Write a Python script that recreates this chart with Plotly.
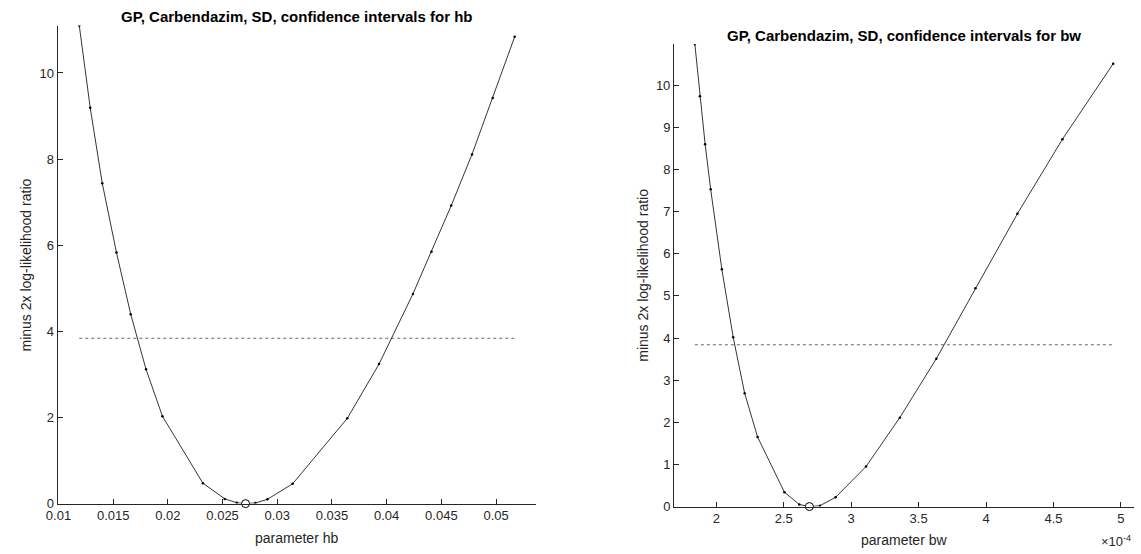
import plotly.graph_objects as go

# Profile likelihood for hb
hb_x = [0.0119, 0.0129, 0.0140, 0.0153, 0.0166, 0.0180, 0.0195, 0.0232, 0.0252, 0.0263,
        0.0271, 0.0280, 0.0291, 0.0314, 0.0364, 0.0393, 0.0424, 0.0441, 0.0459, 0.0478,
        0.0497, 0.0517]
hb_y = [11.10, 9.19, 7.44, 5.83, 4.40, 3.12, 2.03, 0.475, 0.11, 0.02,
        0.0, 0.015, 0.10, 0.46, 1.98, 3.24, 4.87, 5.85, 6.92, 8.11,
        9.42, 10.84]
hb_best = 0.0271

# Profile likelihood for bw
bw_x = [1.841e-4, 1.878e-4, 1.917e-4, 1.958e-4, 2.041e-4, 2.125e-4, 2.210e-4, 2.306e-4,
        2.505e-4, 2.615e-4, 2.690e-4, 2.768e-4, 2.884e-4, 3.110e-4, 3.360e-4, 3.631e-4,
        3.921e-4, 4.232e-4, 4.566e-4, 4.942e-4]
bw_y = [10.97, 9.74, 8.60, 7.53, 5.63, 4.02, 2.69, 1.65,
        0.34, 0.05, 0.0, 0.02, 0.22, 0.95, 2.11, 3.51,
        5.18, 6.95, 8.72, 10.51]
bw_best = 2.690e-4

# chi-square(1) 95% cut-off
chi2_crit = 3.84

hb_ticks = [0.01, 0.015, 0.02, 0.025, 0.03, 0.035, 0.04, 0.045, 0.05]
hb_ticktext = ["0.01", "0.015", "0.02", "0.025", "0.03", "0.035", "0.04", "0.045", "0.05"]
bw_ticks = [2e-4, 2.5e-4, 3e-4, 3.5e-4, 4e-4, 4.5e-4, 5e-4]
bw_ticktext = ["2", "2.5", "3", "3.5", "4", "4.5", "5"]

W, H = 1141, 554
FONT = "Liberation Sans, Arial, sans-serif"
AX = "#262626"
LINE = "#000000"

fig = go.Figure()


def add_panel(xs, ys, best, xa, ya):
    fig.add_trace(go.Scatter(
        x=[min(xs), max(xs)], y=[chi2_crit, chi2_crit], mode="lines",
        line=dict(color="#666666", width=1, dash="dot"),
        xaxis=xa, yaxis=ya, showlegend=False, hoverinfo="skip"))
    fig.add_trace(go.Scatter(
        x=xs, y=ys, mode="lines+markers",
        line=dict(color=LINE, width=0.8),
        marker=dict(color=LINE, size=2.5),
        xaxis=xa, yaxis=ya, showlegend=False))
    fig.add_trace(go.Scatter(
        x=[best], y=[0], mode="markers",
        marker=dict(color="white", size=8, line=dict(color=LINE, width=1)),
        xaxis=xa, yaxis=ya, showlegend=False, cliponaxis=False))


add_panel(hb_x, hb_y, hb_best, "x", "y")
add_panel(bw_x, bw_y, bw_best, "x2", "y2")


def pad(vals):
    lo, hi = min(vals), max(vals)
    d = (hi - lo) * 0.05
    return [lo - d, hi + d]


axis_common = dict(
    showgrid=False, zeroline=False, showline=True, linecolor=AX, linewidth=1,
    ticks="inside", ticklen=5, tickcolor=AX, tickwidth=1,
    tickfont=dict(family=FONT, size=13, color=AX), mirror=False,
)

l_x0, l_x1, l_top, l_bot = 46, 530, 26, 511
r_x0, r_x1, r_top, r_bot = 669, 1134, 45, 514

fig.update_layout(
    width=W, height=H,
    margin=dict(l=0, r=0, t=0, b=0),
    paper_bgcolor="white", plot_bgcolor="white",
    font=dict(family=FONT, color=AX),
    xaxis=dict(domain=[l_x0 / W, l_x1 / W], range=pad(hb_x), tickvals=hb_ticks,
               ticktext=hb_ticktext, anchor="y", **axis_common),
    yaxis=dict(domain=[1 - l_bot / H, 1 - l_top / H], range=[0, max(hb_y)],
               tickvals=[0, 2, 4, 6, 8, 10], anchor="x", **axis_common),
    xaxis2=dict(domain=[r_x0 / W, r_x1 / W], range=pad(bw_x), tickvals=bw_ticks,
                ticktext=bw_ticktext, anchor="y2", **axis_common),
    yaxis2=dict(domain=[1 - r_bot / H, 1 - r_top / H], range=[0, max(bw_y)],
                tickvals=list(range(0, 11)), anchor="x2", **axis_common),
)


def px_text(text, x, y, size=14, bold=False, angle=0, xanchor="center"):
    fig.add_annotation(
        text=f"<b>{text}</b>" if bold else text,
        x=x / W, y=1 - y / H, xref="paper", yref="paper",
        xanchor=xanchor, yanchor="middle", showarrow=False, textangle=angle,
        font=dict(family=FONT, size=size, color="#000000" if bold else AX))


px_text("GP, Carbendazim, SD, confidence intervals for hb", (l_x0 + l_x1) / 2, 17, size=15, bold=True)
px_text("GP, Carbendazim, SD, confidence intervals for bw", (r_x0 + r_x1) / 2, 36, size=15, bold=True)
px_text("parameter hb", (l_x0 + l_x1) / 2, l_bot + 35)
px_text("parameter bw", (r_x0 + r_x1) / 2, r_bot + 34)
px_text("minus 2x log-likelihood ratio", 14, (l_top + l_bot) / 2, angle=-90)
px_text("minus 2x log-likelihood ratio", 638, (r_top + r_bot) / 2, angle=-90)
px_text("×10<sup>-4</sup>", r_x1 - 1, r_bot + 35, size=13, xanchor="right")

fig.write_html("out.html")
